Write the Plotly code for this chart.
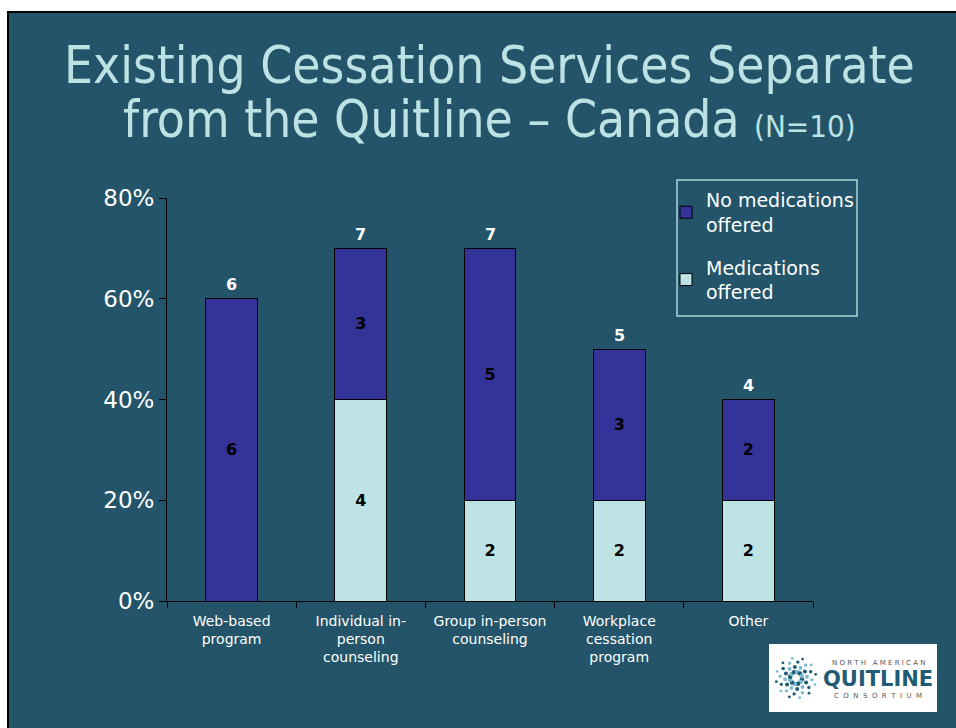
import math
import plotly.graph_objects as go

# Survey results: services offered separately from the quitline (N=10)
categories = ["Web-based<br>program", "Individual in-<br>person<br>counseling",
              "Group in-person<br>counseling", "Workplace<br>cessation<br>program", "Other"]
with_meds = [0, 4, 2, 2, 2]      # "Medications offered"
without_meds = [6, 3, 5, 3, 2]   # "No medications offered"
n_total = 10
y_ticks = [0, 0.2, 0.4, 0.6, 0.8]
y_tick_text = ["0%", "20%", "40%", "60%", "80%"]

BG = "#235469"
DARK = "#333399"
LIGHT = "#BEE3E5"
TITLE_C = "#BCE2E4"
FONT = "DejaVu Sans"
TITLE_FONT = "DejaVu Sans Condensed, Liberation Sans Narrow, sans-serif"

W, H = 956, 728
ML, MR, MT, MB = 167, 143, 198, 127
PW, PH = W - ML - MR, H - MT - MB


def px(x):
    return (x - ML) / PW


def py(y):
    return (H - MB - y) / PH


def label(x, y, text, size, color, family=FONT, xanchor="center"):
    return dict(x=px(x), y=py(y), xref="paper", yref="paper", text=text, showarrow=False,
                xanchor=xanchor, yanchor="middle",
                font=dict(family=family, size=size, color=color))


totals = [a + b for a, b in zip(with_meds, without_meds)]
bar_text_font = dict(family=FONT, size=16, color="black", weight="bold")

fig = go.Figure()
fig.add_trace(go.Bar(
    x=categories, y=[v / n_total for v in with_meds], name="Medications<br>offered",
    legendgroup="m", legendrank=2,
    marker=dict(color=LIGHT, line=dict(color="black", width=1)),
    text=[str(v) if v else "" for v in with_meds], textposition="inside",
    insidetextanchor="middle", textangle=0, textfont=bar_text_font, hoverinfo="skip"))
fig.add_trace(go.Bar(
    x=categories, y=[v / n_total for v in without_meds], name="No medications<br>offered",
    legendgroup="n", legendrank=1,
    marker=dict(color=DARK, line=dict(color="black", width=1)),
    text=[str(v) if v else "" for v in without_meds], textposition="inside",
    insidetextanchor="middle", textangle=0, textfont=bar_text_font, hoverinfo="skip"))

annotations = []
for c, t in zip(categories, totals):
    annotations.append(dict(x=c, y=t / n_total, xref="x", yref="y", text=f"<b>{t}</b>",
                            showarrow=False, yshift=14,
                            font=dict(family=FONT, size=16, color="white")))

# slide title
annotations.append(label(489, 65, "Existing Cessation Services Separate", 51, TITLE_C,
                         family=TITLE_FONT))
annotations.append(label(489, 119,
                         "from the Quitline \u2013 Canada <span style='font-size:31px'>(N=10)</span>",
                         51, TITLE_C, family=TITLE_FONT))

shapes = [
    # slide background with black top/left edge
    dict(type="rect", xref="paper", yref="paper", x0=px(8), x1=px(970), y0=py(12), y1=py(740),
         fillcolor=BG, line=dict(color="black", width=2), layer="below"),
    # legend frame
    dict(type="rect", xref="paper", yref="paper", x0=px(677), x1=px(857), y0=py(180), y1=py(316),
         fillcolor="rgba(0,0,0,0)", line=dict(color="#A8D8DB", width=1.5), layer="above"),
    # logo panel
    dict(type="rect", xref="paper", yref="paper", x0=px(769), x1=px(937), y0=py(644), y1=py(712),
         fillcolor="white", line=dict(width=0), layer="above"),
]

# logo emblem: radial strokes of dots
cx, cy = 796, 678
for i in range(12):
    a = 2 * math.pi * i / 12 + 0.2
    for k, r in enumerate([6, 11, 16, 20]):
        x = cx + r * math.cos(a + k * 0.22)
        y = cy + r * math.sin(a + k * 0.22)
        s = 2.3 - 0.3 * k
        col = "#1F5B74" if i % 2 == 0 else "#7DBAD0"
        shapes.append(dict(type="circle", xref="paper", yref="paper",
                           x0=px(x - s), x1=px(x + s), y0=py(y + s), y1=py(y - s),
                           fillcolor=col, line=dict(width=0), layer="above"))

annotations += [
    label(878, 663, "N O R T H  &nbsp;A M E R I C A N", 7, "#555555"),
    label(878, 679, "<b>QUITLINE</b>", 21, "#1F5B74"),
    label(878, 696, "C &nbsp;O &nbsp;N &nbsp;S &nbsp;O &nbsp;R &nbsp;T &nbsp;I &nbsp;U &nbsp;M", 7, "#555555"),
]

fig.update_layout(
    width=W, height=H,
    margin=dict(l=ML, r=MR, t=MT, b=MB, pad=0),
    paper_bgcolor="white", plot_bgcolor="rgba(0,0,0,0)",
    barmode="stack", bargap=0.6,
    showlegend=True,
    legend=dict(x=px(666), y=py(181), xanchor="left", yanchor="top",
                bgcolor="rgba(0,0,0,0)", borderwidth=0,
                font=dict(family=FONT, size=19, color="white"),
                traceorder="grouped", tracegroupgap=15, itemwidth=30),
    uniformtext=dict(minsize=16, mode="show"),
    xaxis=dict(showline=True, linecolor="black", linewidth=1, ticks="outside",
               tickson="boundaries", ticklen=6, tickcolor="black", showgrid=False,
               ticklabelstandoff=7,
               tickfont=dict(family=FONT, size=14, color="white")),
    yaxis=dict(range=[0, 0.8], tickvals=y_ticks, ticktext=y_tick_text, showline=True,
               linecolor="black", linewidth=1, ticks="outside", ticklen=7, tickcolor="black",
               showgrid=False, zeroline=False,
               tickfont=dict(family=FONT, size=23, color="white")),
    annotations=annotations, shapes=shapes,
)

fig.write_html("out.html")
